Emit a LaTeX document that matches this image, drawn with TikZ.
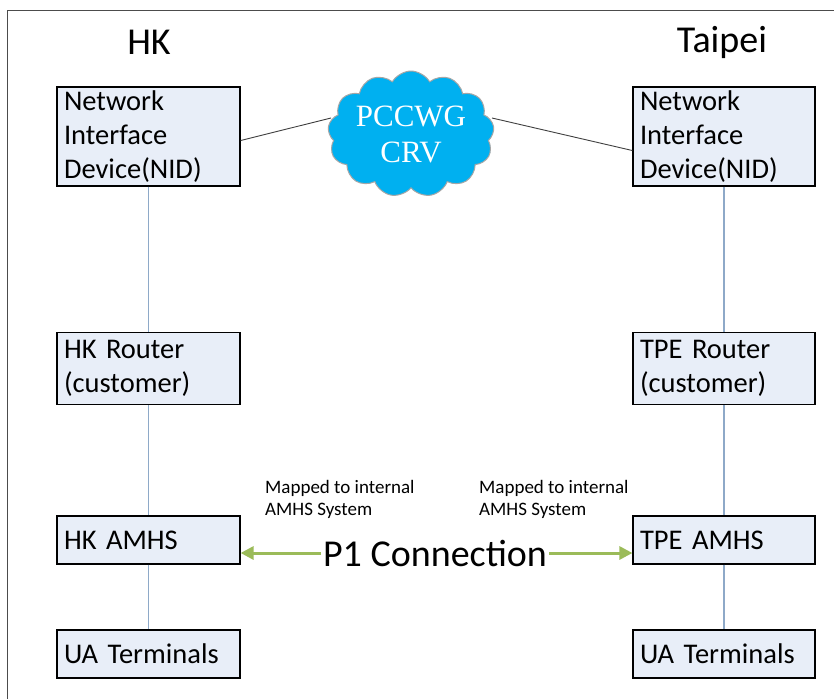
\documentclass[tikz,border=0pt]{standalone}
\usepackage{fontspec}
\setmainfont{Carlito}
\newfontfamily\cloudfont{Liberation Serif}
\usetikzlibrary{shapes.symbols,arrows.meta,calc}
\definecolor{boxfill}{HTML}{E8EEF8}
\definecolor{linkblue}{HTML}{8EA9C8}
\definecolor{cloudblue}{HTML}{00B0F0}
\definecolor{p1green}{HTML}{9BBB59}
\tikzset{
  devbox/.style={draw=black, line width=1.2pt, fill=boxfill, inner xsep=7pt, inner ysep=0pt,
     align=left, font=\fontsize{28.5}{34}\selectfont, anchor=center},
  link/.style={draw=linkblue, line width=1.3pt},
  wan/.style={draw=black!75, line width=0.9pt},
  p1arrow/.style={draw=p1green, line width=3pt, -{Triangle[length=13pt,width=13pt]}},
  title/.style={font=\fontsize{38}{44}\selectfont},
  note/.style={font=\fontsize{19}{22}\selectfont, align=left, anchor=north west, inner sep=0pt}
}
\begin{document}
\begin{tikzpicture}[x=1pt,y=-1pt]
\useasboundingbox (0,0) rectangle (834,699);
\fill[white] (0,0) rectangle (834,699);
% frame
\draw[black!70, line width=1pt] (7,699) -- (7,10) -- (834,10);
% titles
\node[title] (thk) at (149,42) {HK};
\node[title] (ttpe) at (722,42) {Taipei};
% left column
\node[devbox, text width=169pt, minimum height=99pt] (nid1) at (148.5,136.5) {Network\\Interface\\Device(NID)};
\node[devbox, text width=169pt, minimum height=72pt] (rt1) at (148.5,368.5) {HK Router\\(customer)};
\node[devbox, text width=169pt, minimum height=48pt] (am1) at (148.5,540) {HK AMHS};
\node[devbox, text width=169pt, minimum height=48pt] (ua1) at (148.5,654) {UA Terminals};
% right column
\node[devbox, text width=168pt, minimum height=99pt] (nid2) at (724,136.5) {Network\\Interface\\Device(NID)};
\node[devbox, text width=168pt, minimum height=72pt] (rt2) at (724,368.5) {TPE Router\\(customer)};
\node[devbox, text width=168pt, minimum height=48pt] (am2) at (724,540) {TPE AMHS};
\node[devbox, text width=168pt, minimum height=48pt] (ua2) at (724,654) {UA Terminals};
% vertical links
\draw[link] (nid1.south) -- (rt1.north);
\draw[link] (rt1.south) -- (am1.north);
\draw[link] (am1.south) -- (ua1.north);
\draw[link] (nid2.south) -- (rt2.north);
\draw[link] (rt2.south) -- (am2.north);
\draw[link] (am2.south) -- (ua2.north);
% cloud
\node[cloud, cloud puffs=13, cloud puff arc=120, aspect=1.45, draw=black!35, line width=1pt,
      fill=cloudblue, minimum width=162pt, minimum height=116pt, inner sep=0pt,
      text=white, align=center, font=\cloudfont\fontsize{31}{36}\selectfont] (crv) at (411,134) {PCCWG\\CRV};
\coordinate (cl) at (331,118);
\coordinate (cr) at (492,118);
\draw[wan] ($(nid1.north east)!0.54!(nid1.south east)$) -- (cl);
\draw[wan] (cr) -- ($(nid2.north west)!0.64!(nid2.south west)$);
% notes
\node[note] (n1) at (265,480) {Mapped to internal\\AMHS System};
\node[note] (n2) at (479,480) {Mapped to internal\\AMHS System};
% P1
\node[font=\fontsize{38}{44}\selectfont, inner sep=2pt] (p1) at (435,553) {P1 Connection};
\draw[p1arrow] (p1.west) -- (p1.west -| am1.east);
\draw[p1arrow] (p1.east) -- (p1.east -| am2.west);
\end{tikzpicture}
\end{document}
